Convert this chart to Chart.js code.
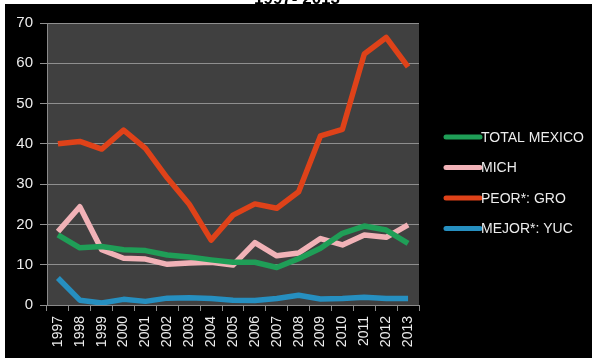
<!DOCTYPE html>
<html>
<head>
<meta charset="utf-8">
<script src="https://cdn.jsdelivr.net/npm/chart.js"></script>
<style>
  html, body { margin: 0; padding: 0; background: #fff; }
  #wrap { position: relative; width: 592px; height: 361px; }
</style>
</head>
<body>
<div id="wrap"><canvas id="tasas" width="592" height="361"></canvas></div>
<script>
const years = ['1997','1998','1999','2000','2001','2002','2003','2004','2005','2006','2007','2008','2009','2010','2011','2012','2013'];

const totalMexico = [17.4, 14.2, 14.5, 13.7, 13.5, 12.4, 11.9, 11.2, 10.6, 10.6, 9.3, 11.5, 14.1, 17.8, 19.6, 18.6, 15.3];
const mich        = [18.2, 24.4, 13.7, 11.6, 11.4, 10.1, 10.4, 10.6, 9.9, 15.5, 12.2, 12.9, 16.5, 14.9, 17.4, 16.8, 19.9];
const gro         = [40.0, 40.6, 38.7, 43.4, 38.9, 31.5, 25.0, 16.1, 22.3, 25.1, 24.0, 28.1, 42.0, 43.6, 62.3, 66.4, 59.1];
const yuc         = [6.7, 1.2, 0.5, 1.4, 0.9, 1.7, 1.8, 1.6, 1.2, 1.1, 1.6, 2.4, 1.5, 1.6, 1.9, 1.6, 1.6];

const yTicks = [0, 10, 20, 30, 40, 50, 60, 70];

const txt = '#ececec';

// white page, black slide with the heading mostly hidden behind it, gray plot
const backdrop = {
  id: 'backdrop',
  beforeDraw(chart) {
    const { ctx, chartArea: a } = chart;
    ctx.save();
    ctx.fillStyle = '#fff';
    ctx.fillRect(0, 0, chart.width, chart.height);
    ctx.fillStyle = '#000';
    ctx.font = 'bold 17px "Liberation Sans"';
    ctx.textAlign = 'center';
    ctx.textBaseline = 'alphabetic';
    ctx.fillText('1997- 2013', 297, 4);
    ctx.fillRect(5, 4, chart.width - 5, chart.height - 7);
    ctx.fillStyle = '#404040';
    ctx.fillRect(a.left, a.top, a.right - a.left, a.bottom - a.top);
    ctx.restore();
  }
};

// legend on the right: short thick line, label right after it
const sideLegend = {
  id: 'sideLegend',
  afterDraw(chart) {
    const { ctx } = chart;
    ctx.save();
    ctx.font = '14px "Liberation Sans"';
    ctx.textBaseline = 'middle';
    ctx.textAlign = 'left';
    chart.data.datasets.forEach((ds, i) => {
      const y = 137 + i * 30.5;
      ctx.strokeStyle = ds.borderColor;
      ctx.lineWidth = 5;
      ctx.lineCap = 'round';
      ctx.beginPath();
      ctx.moveTo(446, y);
      ctx.lineTo(480, y);
      ctx.stroke();
      ctx.fillStyle = txt;
      ctx.fillText(ds.label, 481, y + 1);
    });
    ctx.restore();
  }
};

const line = (label, data, color) => ({
  label, data,
  borderColor: color,
  backgroundColor: color,
  borderWidth: 5.5,
  pointRadius: 0,
  tension: 0,
  borderJoinStyle: 'round'
});

new Chart(document.getElementById('tasas'), {
  type: 'line',
  data: {
    labels: years,
    datasets: [
      line('TOTAL MEXICO', totalMexico, '#1f9e57'),
      line('MICH', mich, '#f1b2b7'),
      line('PEOR*: GRO', gro, '#df4219'),
      line('MEJOR*: YUC', yuc, '#268fc0')
    ]
  },
  options: {
    responsive: false,
    animation: false,
    layout: { padding: { left: 0, top: 23, right: 173, bottom: 0 } },
    plugins: { legend: { display: false }, tooltip: { enabled: false } },
    scales: {
      x: {
        offset: true,
        grid: { offset: true, drawOnChartArea: false, drawTicks: true, tickLength: 6, color: '#8a8a8a' },
        border: { color: '#8a8a8a' },
        ticks: { color: txt, font: { family: 'Liberation Sans', size: 14 }, minRotation: 90, maxRotation: 90, padding: 5, autoSkip: false },
        afterFit: s => { s.height = 56; }
      },
      y: {
        min: 0, max: 70,
        afterBuildTicks: s => { s.ticks = yTicks.map(v => ({ value: v })); },
        grid: { color: '#8f8f8f', lineWidth: 1, tickLength: 7 },
        border: { color: '#8a8a8a' },
        ticks: { color: txt, font: { family: 'Liberation Sans', size: 15 }, padding: 7 },
        afterFit: s => { s.width = 47; }
      }
    }
  },
  plugins: [backdrop, sideLegend]
});
</script>
</body>
</html>
